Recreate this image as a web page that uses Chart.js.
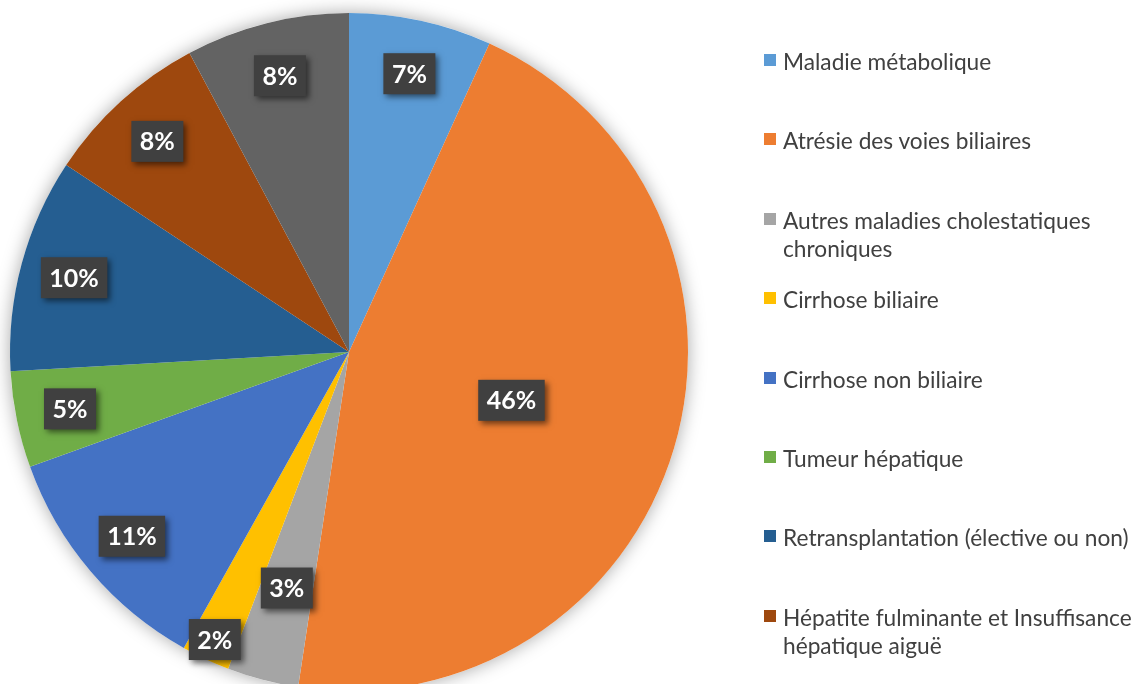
<!DOCTYPE html>
<html>
<head>
<meta charset="utf-8">
<script src="https://cdn.jsdelivr.net/npm/chart.js@4.4.0/dist/chart.umd.min.js"></script>
<style>
  html, body { margin: 0; padding: 0; overflow: hidden; background: #fff; }
  #wrap { position: relative; width: 1136px; height: 704px; }
  #legend { position: absolute; left: 764px; top: 48px; font-family: Lato, "Open Sans", sans-serif; font-size: 22.7px; color: #404040; }
  #legend .item { position: absolute; left: 0; white-space: nowrap; line-height: 28px; }
  #legend .box { position: absolute; left: 0; top: 6px; width: 12px; height: 12px; }
  #legend .txt { position: absolute; left: 19px; top: 0; }
</style>
</head>
<body>
<div id="wrap">
  <canvas id="pie" width="1136" height="704"></canvas>
  <div id="legend"></div>
</div>
<script>
// categories (arrays = wrapped legend lines)
const categories = [
  'Maladie métabolique',
  'Atrésie des voies biliaires',
  ['Autres maladies cholestatiques', 'chroniques'],
  'Cirrhose biliaire',
  'Cirrhose non biliaire',
  'Tumeur hépatique',
  'Retransplantation (élective ou non)',
  ['Hépatite fulminante et Insuffisance', 'hépatique aiguë'],
  'Autres'
];
// share of each slice, in %
const shares = [6.8, 45.6, 3.4, 2.3, 11.4, 4.6, 10.2, 7.9, 7.8];
const colors = ['#5B9BD5', '#ED7D31', '#A5A5A5', '#FFC000', '#4472C4', '#70AD47', '#255E91', '#9E480E', '#636363'];

// soft shadow round the whole pie
const pieShadow = {
  id: 'pieShadow',
  beforeDatasetsDraw(chart) {
    const arc = chart.getDatasetMeta(0).data[0];
    const ctx = chart.ctx;
    ctx.save();
    ctx.shadowColor = 'rgba(0,0,0,0.35)';
    ctx.shadowBlur = 18;
    ctx.fillStyle = '#fff';
    ctx.beginPath();
    ctx.arc(arc.x, arc.y, arc.outerRadius, 0, Math.PI * 2);
    ctx.fill();
    ctx.restore();
  }
};

// dark percentage boxes, excel style
const pctLabels = {
  id: 'pctLabels',
  afterDatasetsDraw(chart) {
    const ctx = chart.ctx;
    const meta = chart.getDatasetMeta(0);
    const data = chart.data.datasets[0].data;
    const total = data.reduce((a, b) => a + b, 0);
    ctx.save();
    ctx.font = 'bold 25px Lato, sans-serif';
    const boxes = meta.data.map((arc, i) => {
      const share = data[i] / total;
      const text = Math.round(share * 100) + '%';
      return {
        arc: arc, share: share, text: text,
        mid: (arc.startAngle + arc.endAngle) / 2,
        f: share > 0.25 ? 0.5 : 0.84,
        w: ctx.measureText(text).width + 17, h: 41
      };
    });
    const place = b => {
      b.cx = b.arc.x + Math.cos(b.mid) * b.arc.outerRadius * b.f;
      b.cy = b.arc.y + Math.sin(b.mid) * b.arc.outerRadius * b.f;
    };
    const hit = (a, b) => Math.abs(a.cx - b.cx) < (a.w + b.w) / 2 + 20 && Math.abs(a.cy - b.cy) < (a.h + b.h) / 2 + 20;
    boxes.forEach(place);
    // push neighbours apart: bigger slice inward, smaller outward
    for (let i = 1; i < boxes.length; i++) {
      const a = boxes[i - 1], b = boxes[i];
      let n = 0;
      while (hit(a, b) && n < 40) {
        const big = a.share >= b.share ? a : b, small = big === a ? b : a;
        big.f -= 0.005; small.f += 0.004;
        place(a); place(b); n++;
      }
    }
    boxes.forEach(b => {
      ctx.save();
      ctx.shadowColor = 'rgba(0,0,0,0.55)';
      ctx.shadowBlur = 6;
      ctx.shadowOffsetX = 3;
      ctx.shadowOffsetY = 3;
      ctx.fillStyle = '#404040';
      ctx.fillRect(b.cx - b.w / 2, b.cy - b.h / 2, b.w, b.h);
      ctx.restore();
      ctx.fillStyle = '#fff';
      ctx.textAlign = 'center';
      ctx.textBaseline = 'middle';
      ctx.fillText(b.text, b.cx, b.cy + 1);
    });
    ctx.restore();
  }
};

const chart = new Chart(document.getElementById('pie').getContext('2d'), {
  type: 'pie',
  data: {
    labels: categories,
    datasets: [{
      data: shares,
      backgroundColor: colors,
      borderWidth: 0
    }]
  },
  options: {
    responsive: false,
    animation: false,
    events: [],
    layout: { padding: { left: 10, right: 448, top: 13, bottom: 13 } },
    plugins: {
      legend: { display: false },
      tooltip: { enabled: false }
    }
  },
  plugins: [pieShadow, pctLabels]
});

// legend on the right, built from the chart's own labels
const legend = document.getElementById('legend');
chart.data.labels.forEach((lab, i) => {
  const item = document.createElement('div');
  item.className = 'item';
  item.style.top = (i * 79.4) + 'px';
  const box = document.createElement('span');
  box.className = 'box';
  box.style.background = chart.data.datasets[0].backgroundColor[i];
  const txt = document.createElement('span');
  txt.className = 'txt';
  txt.innerHTML = [].concat(lab).join('<br>');
  item.appendChild(box);
  item.appendChild(txt);
  legend.appendChild(item);
});
</script>
</body>
</html>
